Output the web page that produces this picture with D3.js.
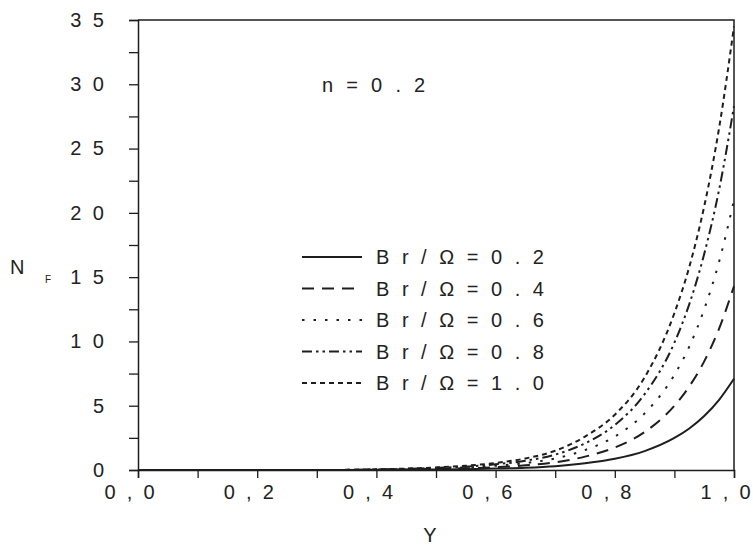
<!DOCTYPE html>
<html><head><meta charset="utf-8">
<script src="https://cdn.jsdelivr.net/npm/d3@7"></script>
<style>
body{margin:0;background:#fff}
text{font-family:"Liberation Sans",Arial,sans-serif;fill:#222;white-space:pre}
</style></head>
<body><svg id="c" width="753" height="546"></svg>
<script>
// ---- data ----
const yPos   = [0, 0.1, 0.2, 0.3, 0.4, 0.5, 0.55, 0.6, 0.65, 0.7, 0.75, 0.8, 0.85, 0.9, 0.925, 0.95, 0.975, 1.0];
const nfBr02 = [0, 0, 0, 0, 0.01, 0.04, 0.065, 0.11, 0.18, 0.3, 0.52, 0.87, 1.47, 2.49, 3.23, 4.2, 5.46, 7.1];
const nfBr04 = [0, 0, 0, 0, 0.02, 0.08, 0.13, 0.22, 0.36, 0.6, 1.04, 1.75, 2.95, 5.0, 6.5, 8.45, 11.0, 14.3];
const nfBr06 = [0, 0, 0, 0, 0.03, 0.12, 0.2, 0.33, 0.54, 0.9, 1.55, 2.6, 4.4, 7.4, 9.6, 12.5, 16.2, 21.0];
const nfBr08 = [0, 0, 0, 0, 0.04, 0.16, 0.26, 0.44, 0.72, 1.2, 2.07, 3.5, 5.9, 9.9, 12.9, 16.8, 21.8, 28.3];
const nfBr10 = [0, 0, 0, 0, 0.05, 0.2, 0.33, 0.55, 0.9, 1.5, 2.6, 4.3, 7.2, 12.2, 15.8, 20.5, 26.6, 34.5];
const seriesLabels = ["B r / Ω = 0 . 2", "B r / Ω = 0 . 4", "B r / Ω = 0 . 6", "B r / Ω = 0 . 8", "B r / Ω = 1 . 0"];
const xTickValues = [0, 0.2, 0.4, 0.6, 0.8, 1.0];
const xTickLabels = ["0 , 0", "0 , 2", "0 , 4", "0 , 6", "0 , 8", "1 , 0"];
const yTickValues = [0, 5, 10, 15, 20, 25, 30, 35];
const yTickLabels = ["0", "5", "1 0", "1 5", "2 0", "2 5", "3 0", "3 5"];
const annotation = "n = 0 . 2";

// ---- styles ----
const dashes = [null, "12,8", "2.5,9", "10,4,2.5,4,2.5,4", "5,4"];
const ink = "#1e1e1e";
const FONT = '"Liberation Sans",Arial,sans-serif';

const svg = d3.select("#c");
const x = d3.scaleLinear([0, 1], [138, 734]);
const y = d3.scaleLinear([0, 35], [470, 20]);

// frame (top, right)
svg.append("path").attr("d", `M${x(0)},${y(35)}H${x(1)}V${y(0)}`).attr("fill","none").attr("stroke",ink).attr("stroke-width",1.5);

// x axis
const xa = svg.append("g").attr("transform", `translate(0,${y(0)})`)
  .call(d3.axisBottom(x).tickValues(d3.range(0, 11).map(i => i / 10)).tickSize(8).tickPadding(7)
    .tickFormat(d => { const k = xTickValues.findIndex(v => Math.abs(v - d) < 1e-9); return k >= 0 ? xTickLabels[k] : ""; }));
xa.select(".domain").attr("stroke", ink).attr("stroke-width", 1.5);
xa.selectAll(".tick line").attr("stroke", ink).attr("stroke-width", 1.3);
xa.selectAll(".tick text").attr("font-size", 20).attr("fill", ink).attr("letter-spacing", 2.8).attr("dx", -7.5)
  .style("font-family", FONT);

// y axis
const ya = svg.append("g").attr("transform", `translate(${x(0)},0)`)
  .call(d3.axisLeft(y).tickValues(d3.range(0, 15).map(i => i * 2.5)).tickSize(9).tickPadding(22)
    .tickFormat(d => { const k = yTickValues.indexOf(d); return k >= 0 ? yTickLabels[k] : ""; }));
ya.select(".domain").attr("stroke", ink).attr("stroke-width", 1.5);
ya.selectAll(".tick line").attr("stroke", ink).attr("stroke-width", 1.3);
ya.selectAll(".tick text").attr("font-size", 20).attr("fill", ink).attr("letter-spacing", 3)
  .style("font-family", FONT);

// axis titles
svg.append("text").attr("x", 430).attr("y", 542).attr("text-anchor","middle").attr("font-size", 20).attr("fill", ink).text("Y");
svg.append("text").attr("x", 10).attr("y", 274).attr("font-size", 20).attr("fill", ink).text("N");
svg.append("text").attr("x", 45).attr("y", 283).attr("font-size", 10).attr("fill", ink).text("F");

// annotation
svg.append("text").attr("x", 322).attr("y", 92).attr("font-size", 20).attr("fill", ink).attr("letter-spacing", 3.8).text(annotation);

// curves
const allSeries = [nfBr02, nfBr04, nfBr06, nfBr08, nfBr10];
const line = d3.line().x((d, i) => x(yPos[i])).y(d => y(d)).curve(d3.curveMonotoneX);
allSeries.forEach((s, k) => {
  svg.append("path").datum(s).attr("d", line).attr("fill","none").attr("stroke", ink)
    .attr("stroke-width", 2).attr("stroke-dasharray", dashes[k]);
});

// legend
const ly = d3.scalePoint().domain(d3.range(seriesLabels.length)).range([257, 383]);
seriesLabels.forEach((lab, k) => {
  svg.append("line").attr("x1", 302).attr("x2", 362).attr("y1", ly(k)).attr("y2", ly(k))
    .attr("stroke", ink).attr("stroke-width", 2).attr("stroke-dasharray", dashes[k]);
  svg.append("text").attr("x", 376).attr("y", ly(k) + 7).attr("font-size", 20).attr("fill", ink).attr("letter-spacing", 3.5).text(lab);
});
</script></body></html>
